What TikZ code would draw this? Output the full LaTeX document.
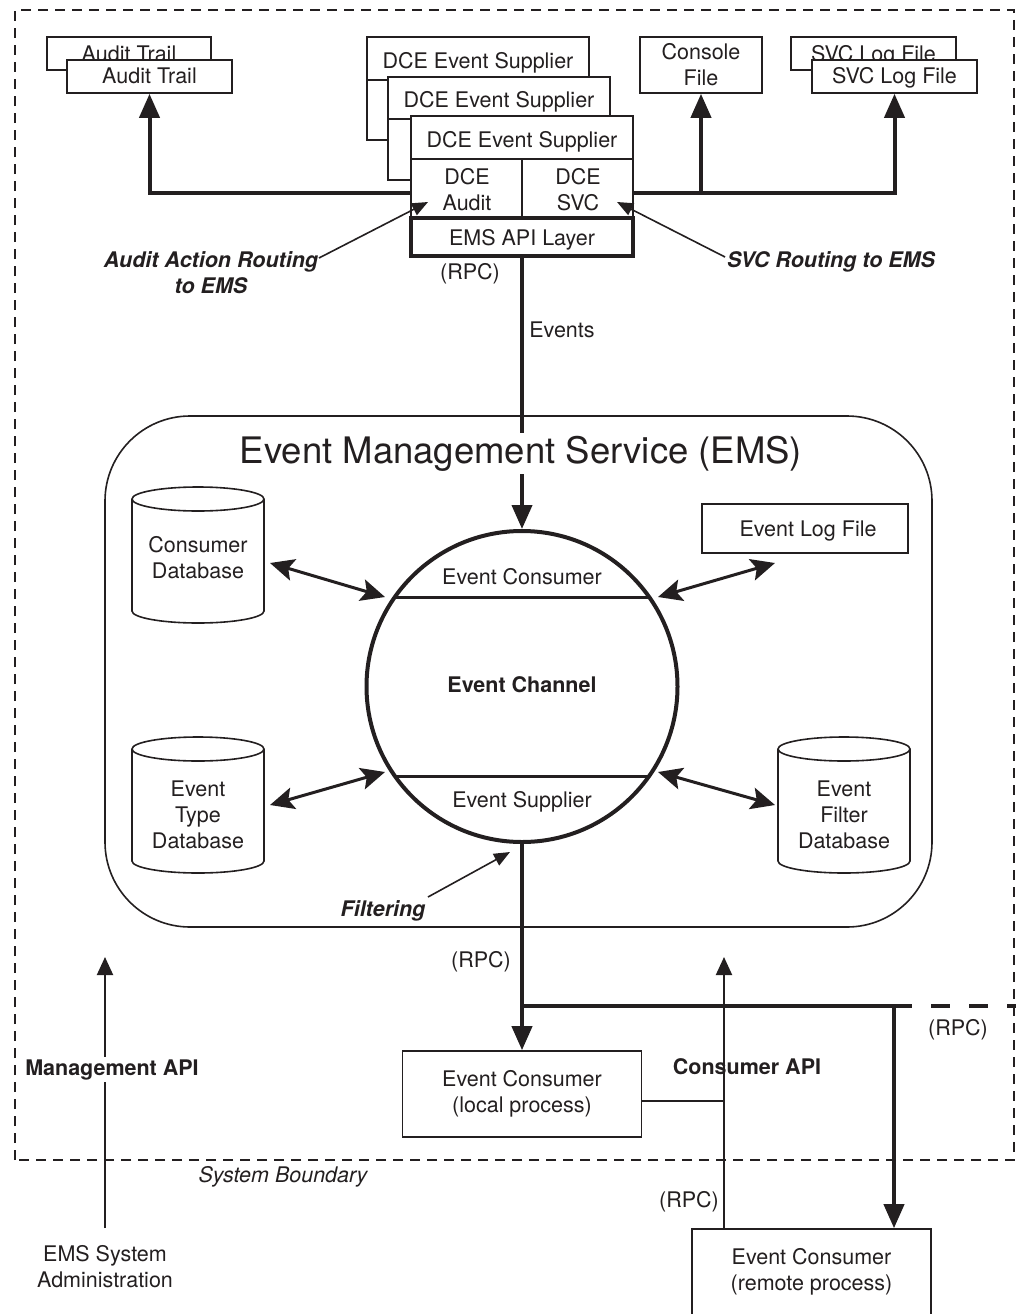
\documentclass[tikz,border=0pt]{standalone}
\usepackage{fontspec}
\setmainfont{TeX Gyre Heros}
\usetikzlibrary{arrows.meta,calc}
\definecolor{ink}{RGB}{35,31,32}
\newcommand\dbcyl[4]{%
  \draw[line width=1.6pt, fill=white] (#1,#3+12) -- (#1,#4-12)
    arc[start angle=180, end angle=0, x radius=66, y radius=12] -- (#2,#3+12)
    arc[start angle=0, end angle=-180, x radius=66, y radius=12] -- cycle;
  \draw[line width=1.6pt] (#1,#3+12) arc[start angle=180, end angle=0, x radius=66, y radius=12];}
\begin{document}
\begin{tikzpicture}[x=1pt,y=-1pt, color=ink,
  every node/.style={font=\fontsize{21.5}{26}\selectfont, text=ink, inner sep=0pt},
  box/.style={draw=ink, line width=1.6pt, fill=white, inner sep=0pt},
  bigarrow/.style={line width=4pt, -{Triangle[length=24pt,width=20pt]}},
  dblarrow/.style={line width=3pt, {Stealth[length=24pt,width=22pt,inset=5pt]}-{Stealth[length=24pt,width=22pt,inset=5pt]}},
  smallarrow/.style={line width=1.6pt, -{Triangle[length=16pt,width=13pt]}},
  apiarrow/.style={line width=2pt, -{Triangle[length=18pt,width=16pt]}},
  boundary/.style={line width=1.6pt, dash pattern=on 10pt off 7pt},
  bi/.style={font=\fontsize{21.5}{26}\selectfont\bfseries\itshape},
  bf/.style={font=\fontsize{21.5}{26}\selectfont\bfseries},
  ]
\useasboundingbox (0,0) rectangle (1016,1314);
\clip (0,0) rectangle (1016,1314);

% system boundary
\draw[boundary] (15,1160) -- (15,10) -- (1014,10) -- (1014,1160) -- cycle;

% Audit trail
\node[box, minimum width=164pt, minimum height=33pt] (atb) at (129,53.5) {};
\node[anchor=base] (atbt) at (129,61.5) {Audit Trail};
\node[box, minimum width=165pt, minimum height=33pt] (atf) at (149.5,76.5) {};
\node[anchor=base] (atft) at (149.5,83) {Audit Trail};

% Console file
\node[box, minimum width=122pt, minimum height=56pt, align=center] (con) at (701,65) {Console\\File};

% SVC log files
\node[box, minimum width=165pt, minimum height=33pt] (svb) at (873.5,53.5) {};
\node[anchor=base] (svbt) at (873.5,61.5) {SVC Log File};
\node[box, minimum width=165pt, minimum height=33pt] (svf) at (894.5,76.5) {};
\node[anchor=base] (svft) at (894.5,83) {SVC Log File};

% DCE Event Suppliers
\node[box, minimum width=222pt, minimum height=103pt] (dce1) at (478,88.5) {};
\draw[line width=1.6pt] (367,80) -- (589,80);
\node[anchor=base] (dce1t) at (478,68) {DCE Event Supplier};
\node[box, minimum width=222pt, minimum height=103pt] (dce2) at (499,128.5) {};
\draw[line width=1.6pt] (388,119) -- (610,119);
\node[anchor=base] (dce2t) at (499,107) {DCE Event Supplier};
\node[box, minimum width=222pt, minimum height=102pt] (dce3) at (522,167) {};
\draw[line width=1.6pt] (411,159) -- (633,159);
\draw[line width=1.6pt] (522,159) -- (522,218);
\node[anchor=base] (dce3t) at (522,147) {DCE Event Supplier};
\node[align=center] (aud) at (467,190) {DCE\\Audit};
\node[align=center] (svc) at (578,190) {DCE\\SVC};
\node[box, line width=4pt, minimum width=222pt, minimum height=38pt] (api) at (522,237) {};
\node[anchor=base] (apit) at (522,245) {EMS API Layer};

% bus to files
\coordinate (busL) at (411,193);
\coordinate (busR) at (633,193);
\coordinate (busC) at (701,193);
\draw[bigarrow] (busL) -| (atf.south);
\draw[bigarrow] (busR) -| (svf.south);
\draw[bigarrow] (busC) -- (con.south);

% routing labels
\node[align=center, bi] (aar) at (211,273) {Audit Action Routing\\to EMS};
\coordinate (aarS) at (319,258);
\coordinate (aarE) at (428,202);
\draw[smallarrow] (aarS) -- (aarE);
\node[anchor=base, bi] (svr) at (831,267) {SVC Routing to EMS};
\coordinate (svrS) at (725,257);
\coordinate (svrE) at (617,202);
\draw[smallarrow] (svrS) -- (svrE);

\node[anchor=base] (rpc1) at (470,279) {(RPC)};
\node[anchor=base] (evl) at (562,337) {Events};

% EMS container
\node[draw, line width=1.6pt, rounded corners=85pt, minimum width=827pt, minimum height=511pt] (ems) at (518.5,671.5) {};

% Event channel
\node[draw, circle, line width=4pt, minimum size=311pt] (ch) at (522,686.5) {};
\draw[line width=3pt] (394.8,597) -- (649.2,597);
\draw[line width=3pt] (394.8,776) -- (649.2,776);
\node[anchor=base] (ecl) at (522,584) {Event Consumer};
\node[anchor=base, bf] (ecn) at (522,692) {Event Channel};
\node[anchor=base] (esl) at (522,807) {Event Supplier};

\draw[bigarrow] (api.south) -- (ch.north);
\node[fill=white, inner xsep=3pt, inner ysep=3pt, anchor=base, font=\fontsize{36.5}{40}\selectfont] (title) at (521,463) {Event Management Service (EMS)};

% databases
\dbcyl{132}{264}{487}{623}
\node[align=center] (cdb) at (198,558) {Consumer\\Database};
\dbcyl{132}{264}{737}{873}
\node[align=center] (etdb) at (198,815) {Event\\Type\\Database};
\dbcyl{778}{910}{737}{873}
\node[align=center] (efdb) at (844,815) {Event\\Filter\\Database};

\node[box, minimum width=206pt, minimum height=49pt] (elf) at (805,528.5) {};
\node[anchor=base] (elft) at (808,536) {Event Log File};

% double arrows
\coordinate (cdbA) at (270,563); \coordinate (chA) at (385,597);
\coordinate (etdbA) at (270,805); \coordinate (chB) at (385,772);
\coordinate (chC) at (658,597); \coordinate (elfA) at (775,563);
\coordinate (chD) at (658,772); \coordinate (efdbA) at (775,805);
\draw[dblarrow] (cdbA) -- (chA);
\draw[dblarrow] (etdbA) -- (chB);
\draw[dblarrow] (chC) -- (elfA);
\draw[dblarrow] (chD) -- (efdbA);

% filtering
\node[anchor=base, bi] (filt) at (383,916) {Filtering};
\coordinate (filS) at (428,897);
\coordinate (filE) at (510,852);
\draw[smallarrow] (filS) -- (filE);

% consumers
\node[box, minimum width=239pt, minimum height=86pt, align=center] (lc) at (522,1094) {Event Consumer\\(local process)};
\node[box, minimum width=239pt, minimum height=120pt] (rc) at (811.5,1289) {};
\node[align=center] (rct) at (811.5,1272) {Event Consumer\\(remote process)};

\draw[bigarrow] (ch.south) -- (lc.north);
\coordinate (jn) at (522,1006);
\coordinate (bR) at (912,1006);
\coordinate (bD) at (894,1006);
\coordinate (bE) at (1030,1006);
\draw[line width=4pt] (jn) -- (bR);
\draw[line width=4pt, dash pattern=on 19pt off 19pt, dash phase=19pt] (bR) -- (bE);
\draw[bigarrow] (bD) -- (bD |- rc.north);

\node[anchor=base] (rpc2) at (481,967) {(RPC)};
\node[anchor=base] (rpc3) at (958,1035) {(RPC)};
\node[anchor=base] (rpc4) at (689,1207) {(RPC)};

% consumer API
\coordinate (caB) at (724,1229);
\coordinate (caT) at (724,957);
\coordinate (caH) at (724,1101);
\draw[apiarrow] (caB) -- (caT);
\draw[line width=2pt] (lc.east |- caH) -- (caH);
\node[anchor=base, bf] (capi) at (747,1074) {Consumer API};

% management API
\coordinate (maB) at (105,1228);
\coordinate (maT) at (105,957);
\draw[apiarrow] (maB) -- (maT);
\node[fill=white, inner xsep=1pt, inner ysep=2pt, anchor=base, bf] (mapi) at (112,1075) {Management API};

\node[anchor=base, font=\fontsize{21.5}{26}\selectfont\itshape] (sb) at (283,1182) {System Boundary};
\node[align=center] (adm) at (105,1267) {EMS System\\Administration};
\end{tikzpicture}
\end{document}
